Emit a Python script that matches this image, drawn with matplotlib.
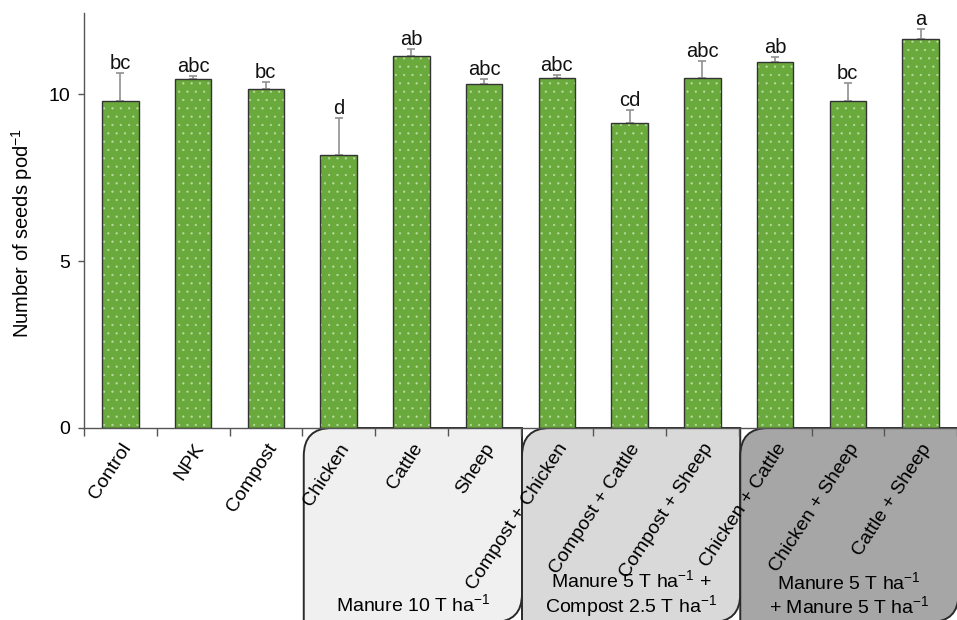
import matplotlib
matplotlib.use("Agg")
import matplotlib.pyplot as plt
from matplotlib.path import Path
from matplotlib.patches import PathPatch
from matplotlib.transforms import IdentityTransform

plt.rcParams['font.family'] = ['Liberation Sans', 'DejaVu Sans']
plt.rcParams['mathtext.fontset'] = 'custom'
plt.rcParams['mathtext.rm'] = 'Liberation Sans'
plt.rcParams['mathtext.it'] = 'Liberation Sans'
plt.rcParams['hatch.linewidth'] = 0.4

# ---- data ----
categories = ["Control", "NPK", "Compost", "Chicken", "Cattle", "Sheep",
              "Compost + Chicken", "Compost + Cattle", "Compost + Sheep",
              "Chicken + Cattle", "Chicken + Sheep", "Cattle + Sheep"]
means = [9.81, 10.47, 10.16, 8.17, 11.15, 10.31, 10.49, 9.14, 10.49, 10.97, 9.81, 11.65]
errors = [0.83, 0.09, 0.21, 1.12, 0.21, 0.15, 0.08, 0.39, 0.52, 0.16, 0.52, 0.30]
letters = ["bc", "abc", "bc", "d", "ab", "abc", "abc", "cd", "abc", "ab", "bc", "a"]
y_ticks = [0, 5, 10]
group_labels = ["Manure 10 T ha$^{-1}$",
                "Manure 5 T ha$^{-1}$ +\nCompost 2.5 T ha$^{-1}$",
                "Manure 5 T ha$^{-1}$\n+ Manure 5 T ha$^{-1}$"]
group_spans = [(2.5, 5.5), (5.5, 8.5), (8.5, 11.5)]
group_colors = ["#f0f0f0", "#d9d9d9", "#a6a6a6"]

W, H, DPI = 957, 620, 100
fig = plt.figure(figsize=(W / DPI, H / DPI), dpi=DPI)
ax_left, ax_right = 84 / W, 1.0
ax_bottom, ax_top = (H - 428) / H, (H - 12.7) / H
ax = fig.add_axes([ax_left, ax_bottom, ax_right - ax_left, ax_top - ax_bottom])

x = list(range(len(categories)))
green = "#6aaa3c"
ax.bar(x, means, width=0.5, color=green, edgecolor="#b9dba0", linewidth=0,
       hatch="..", zorder=2)
ax.bar(x, means, width=0.5, fill=False, edgecolor="#333333", linewidth=1.0, zorder=3)
ax.errorbar(x, means, yerr=[[0] * len(means), errors], fmt="none",
            ecolor="#909090", elinewidth=1.2, capsize=3, capthick=1.2, zorder=1.5)

for xi, m, e, lab in zip(x, means, errors, letters):
    ax.annotate(lab, (xi, m + e), xytext=(0, 3), textcoords="offset points",
                ha="center", va="baseline", fontsize=14.5, color="#111111")

ax.set_xlim(-0.5, -0.5 + (W - 84) / 73.5)
ax.set_ylim(0, 12.45)
ax.set_yticks(y_ticks)
ax.tick_params(axis="y", labelsize=14, length=4, width=1, color="#555555", pad=6)

# major ticks at category boundaries, labels at centres
ax.set_xticks([i + 0.5 for i in range(-1, len(categories))])
ax.set_xticklabels([])
ax.tick_params(axis="x", which="major", length=6, width=1, color="#555555")
ax.set_xticks(x, minor=True)
ax.set_xticklabels(categories, minor=True, rotation=57, ha="right",
                   rotation_mode="anchor", fontsize=14)
ax.tick_params(axis="x", which="minor", length=0, pad=9)
for t in ax.get_xticklabels(minor=True):
    t.set_va("top")

for s in ["top", "right"]:
    ax.spines[s].set_visible(False)
for s in ["left", "bottom"]:
    ax.spines[s].set_color("#555555")
    ax.spines[s].set_linewidth(1.0)

ax.set_ylabel("Number of seeds pod$^{-1}$", fontsize=14.5)
ax.yaxis.set_label_coords(-0.056, 0.47)

# group boxes (display pixel coords)
fig.canvas.draw()
yt = H - 428
yb = H - 622
r = 28
for (x0d, x1d), col, lab in zip(group_spans, group_colors, group_labels):
    x0 = ax.transData.transform((x0d, 0))[0] + 1.5
    x1 = ax.transData.transform((x1d, 0))[0] + 1.5
    verts = [(x0, yb), (x0, yt - r), (x0, yt), (x0 + r, yt), (x1, yt),
             (x1, yb + r), (x1, yb), (x1 - r, yb), (x0, yb)]
    codes = [Path.MOVETO, Path.LINETO, Path.CURVE3, Path.CURVE3, Path.LINETO,
             Path.LINETO, Path.CURVE3, Path.CURVE3, Path.CLOSEPOLY]
    p = PathPatch(Path(verts, codes), facecolor=col, edgecolor="#2a2a2a",
                  linewidth=1.4, transform=IdentityTransform(), clip_on=False, zorder=0.5)
    ax.add_patch(p)
    nlines = lab.count("\n") + 1
    ycen = H - (604 if nlines == 1 else 594)
    ax.text((x0 + x1) / 2, ycen, lab, transform=IdentityTransform(), ha="center",
            va="center", fontsize=14, clip_on=False, zorder=4, linespacing=1.1)

fig.savefig("out.png", dpi=DPI)
